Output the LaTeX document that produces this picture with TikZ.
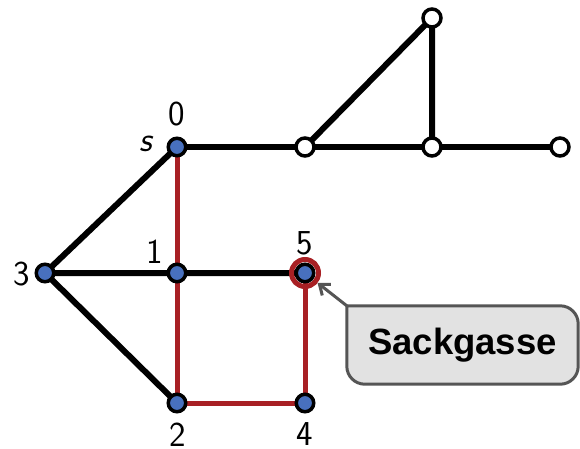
\documentclass[tikz,border=0pt]{standalone}
\usepackage{fontspec}
\newfontfamily\calloutfont{Liberation Sans}
\usetikzlibrary{arrows.meta}
\definecolor{nodeblue}{RGB}{72,112,190}
\definecolor{pathred}{RGB}{168,32,36}
\definecolor{boxgray}{RGB}{226,226,226}
\definecolor{boxedge}{RGB}{85,85,85}
\begin{document}
\begin{tikzpicture}[x=1pt,y=-1pt,
  vtx/.style={circle,draw=black,line width=3.5pt,fill=nodeblue,minimum size=17.5pt,inner sep=0pt},
  wvtx/.style={circle,draw=black,line width=3.5pt,fill=white,minimum size=18pt,inner sep=0pt},
  edge/.style={line width=6pt,black},
  redge/.style={line width=5pt,pathred},
  lbl/.style={font=\sffamily\fontsize{35}{37}\selectfont,inner sep=0pt}
]
\useasboundingbox (0,0) rectangle (580,449);
% coordinates
\coordinate (ps) at (177,147);
\coordinate (pa) at (305,147);
\coordinate (pb) at (432,147);
\coordinate (pc) at (560,147);
\coordinate (pd) at (432,18);
\coordinate (p3) at (45,273);
\coordinate (p1) at (177,273);
\coordinate (p5) at (305,273);
\coordinate (p2) at (177,403);
\coordinate (p4) at (305,403);
% black edges
\draw[edge] (ps) -- (pa) -- (pb) -- (pc);
\draw[edge] (pa) -- (pd) -- (pb);
\draw[edge] (ps) -- (p3) -- (p1) -- (p5);
\draw[edge] (p3) -- (p2);
% red path
\draw[redge] (ps) -- (p1) -- (p2) -- (p4) -- (p5);
% ring around 5
\node[circle,draw=pathred,line width=5pt,minimum size=27pt,inner sep=0pt] (ring) at (p5) {};
% nodes
\node[vtx] (ns) at (ps) {};
\node[vtx] (n3) at (p3) {};
\node[vtx] (n1) at (p1) {};
\node[vtx] (n5) at (p5) {};
\node[vtx] (n2) at (p2) {};
\node[vtx] (n4) at (p4) {};
\node[wvtx] (na) at (pa) {};
\node[wvtx] (nb) at (pb) {};
\node[wvtx] (nc) at (pc) {};
\node[wvtx] (nd) at (pd) {};
% labels
\node[lbl] (l0) at (177,114.5) {0};
\node[lbl] (ls) at (146,143.5) {\itshape s};
\node[lbl] (l1) at (155,251.5) {1};
\node[lbl] (l5) at (305,243.5) {5};
\node[lbl] (l3) at (22,274) {3};
\node[lbl] (l2) at (178,434.5) {2};
\node[lbl] (l4) at (305,434.5) {4};
% callout
\node[inner sep=0pt,minimum width=231pt,minimum height=78pt] (callout) at (462.5,345) {};
\filldraw[fill=boxgray,draw=boxedge,line width=3pt]
  (callout.west) -- (callout.north west) -- (callout.north)
  [rounded corners=18pt] -- (callout.north east) -- (callout.south east)
  -- (callout.south west) -- cycle;
\node[inner sep=0pt,font=\calloutfont\bfseries\fontsize{36.5}{38}\selectfont] (ctext) at (callout.center) {Sackgasse};
\draw[boxedge,line width=3pt,-{Straight Barb[length=9pt,width=14pt]}] (callout.north west) -- (ring);
\end{tikzpicture}
\end{document}
